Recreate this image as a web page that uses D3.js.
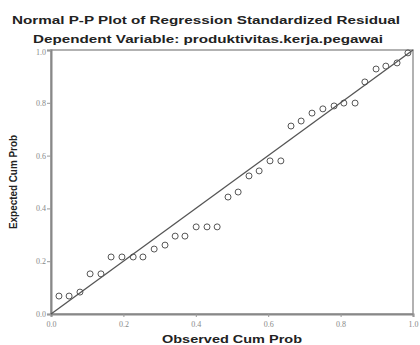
<!DOCTYPE html>
<html>
<head>
<meta charset="utf-8">
<script src="https://cdn.jsdelivr.net/npm/d3@7"></script>
<style>
  body { margin: 0; background: #fff; }
  svg { display: block; }
</style>
</head>
<body>
<div id="chart"></div>
<script>
// Observed vs expected cumulative probabilities
const observed = [0.022, 0.050, 0.080, 0.108, 0.138, 0.166, 0.196, 0.227, 0.254, 0.285,
  0.315, 0.343, 0.370, 0.401, 0.431, 0.459, 0.489, 0.517, 0.547, 0.575,
  0.605, 0.635, 0.663, 0.691, 0.721, 0.751, 0.782, 0.809, 0.840, 0.867,
  0.898, 0.925, 0.956, 0.986];
const expected = [0.068, 0.068, 0.083, 0.152, 0.152, 0.216, 0.216, 0.216, 0.216, 0.246,
  0.261, 0.295, 0.295, 0.330, 0.330, 0.330, 0.443, 0.462, 0.523, 0.542,
  0.580, 0.580, 0.712, 0.731, 0.761, 0.777, 0.788, 0.799, 0.799, 0.879,
  0.928, 0.939, 0.951, 0.989];
const tickValues = [0, 0.2, 0.4, 0.6, 0.8, 1.0];
const titleLines = ['Normal P-P Plot of Regression Standardized Residual',
  'Dependent Variable: produktivitas.kerja.pegawai'];
const xTitle = 'Observed Cum Prob';
const yTitle = 'Expected Cum Prob';

const width = 420, height = 345;
const margin = { top: 50, right: 7, bottom: 31, left: 51 };
const plotW = width - margin.left - margin.right;
const plotH = height - margin.top - margin.bottom;

const svg = d3.select('#chart').append('svg')
  .attr('width', width)
  .attr('height', height);

const x = d3.scaleLinear().domain([0, 1]).range([0, plotW]);
const y = d3.scaleLinear().domain([0, 1]).range([plotH, 0]);

// Titles
svg.append('text')
  .attr('x', 206).attr('y', 24)
  .attr('text-anchor', 'middle')
  .attr('font-family', 'Liberation Sans, Arial, sans-serif')
  .attr('font-size', '11px').attr('font-weight', 'bold')
  .attr('fill', '#222')
  .attr('textLength', 388).attr('lengthAdjust', 'spacingAndGlyphs')
  .text(titleLines[0]);
svg.append('text')
  .attr('x', 208).attr('y', 43)
  .attr('text-anchor', 'middle')
  .attr('font-family', 'Liberation Sans, Arial, sans-serif')
  .attr('font-size', '11px').attr('font-weight', 'bold')
  .attr('fill', '#222')
  .attr('textLength', 350).attr('lengthAdjust', 'spacingAndGlyphs')
  .text(titleLines[1]);

const g = svg.append('g')
  .attr('transform', 'translate(' + margin.left + ',' + margin.top + ')');

// Frame
g.append('rect')
  .attr('x', 0).attr('y', 0)
  .attr('width', plotW).attr('height', plotH)
  .attr('fill', 'none')
  .attr('stroke', '#999')
  .attr('stroke-width', 1.5);

// Axes
const xAxis = g.append('g')
  .attr('transform', 'translate(0,' + plotH + ')')
  .call(d3.axisBottom(x).tickValues(tickValues).tickSize(3).tickFormat(d3.format('.1f')));
const yAxis = g.append('g')
  .call(d3.axisLeft(y).tickValues(tickValues).tickSize(4).tickFormat(d3.format('.1f')));

[xAxis, yAxis].forEach(function(a) {
  a.select('.domain').attr('stroke', '#888').attr('stroke-width', 2);
  a.selectAll('.tick line').attr('stroke', '#999');
  a.selectAll('.tick text')
    .attr('font-family', 'Liberation Serif, Times New Roman, serif')
    .attr('font-size', '8px')
    .attr('fill', '#888');
});
xAxis.selectAll('.tick text').attr('dy', '0.9em');
yAxis.selectAll('.tick text').attr('x', -5);
// keep the top y label clear of the subtitle
yAxis.selectAll('.tick text').filter(function(d) { return d === 1; }).attr('dy', '0.55em');

// Reference diagonal
g.append('line')
  .attr('x1', x(0)).attr('y1', y(0))
  .attr('x2', x(1)).attr('y2', y(1))
  .attr('stroke', '#555')
  .attr('stroke-width', 1.3);

// Points
g.selectAll('.pt')
  .data(observed.map(function(d, i) { return [d, expected[i]]; }))
  .enter()
  .append('circle')
  .attr('class', 'pt')
  .attr('cx', function(d) { return x(d[0]); })
  .attr('cy', function(d) { return y(d[1]); })
  .attr('r', 3)
  .attr('fill', 'none')
  .attr('stroke', '#555')
  .attr('stroke-width', 1);

// Axis titles
svg.append('text')
  .attr('x', margin.left + plotW / 2).attr('y', 343)
  .attr('text-anchor', 'middle')
  .attr('font-family', 'Liberation Sans, Arial, sans-serif')
  .attr('font-size', '10px').attr('font-weight', 'bold')
  .attr('fill', '#222')
  .attr('textLength', 140).attr('lengthAdjust', 'spacingAndGlyphs')
  .text(xTitle);
svg.append('text')
  .attr('transform', 'translate(17,' + (margin.top + plotH / 2) + ') rotate(-90)')
  .attr('text-anchor', 'middle')
  .attr('font-family', 'Liberation Sans, Arial, sans-serif')
  .attr('font-size', '10px').attr('font-weight', 'bold')
  .attr('fill', '#222')
  .attr('textLength', 94).attr('lengthAdjust', 'spacingAndGlyphs')
  .text(yTitle);
</script>
</body>
</html>
